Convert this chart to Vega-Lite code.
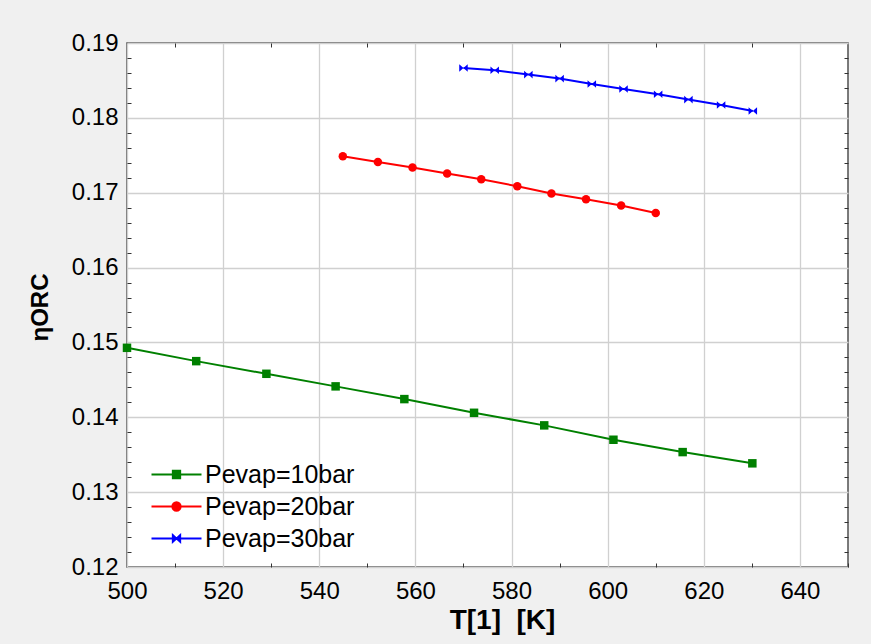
{
  "$schema": "https://vega.github.io/schema/vega-lite/v6.json",
  "autosize": "none",
  "width": 721,
  "height": 524,
  "padding": {"left": 127, "top": 43, "right": 23, "bottom": 77},
  "background": "#f0f0f0",
  "config": {
    "view": {"fill": "white", "stroke": "#505050", "strokeWidth": 1.5},
    "font": "Liberation Sans",
    "axis": {"labelFont": "Liberation Sans", "titleFont": "Liberation Sans", "labelColor": "#000", "titleColor": "#000"},
    "legend": {"labelFont": "Liberation Sans", "labelColor": "#000", "labelFontSize": 25, "padding": 0}
  },
  "data": {"values": [
    {"series": "Pevap=10bar", "T": 500.0, "eta": 0.14928},
    {"series": "Pevap=10bar", "T": 514.4, "eta": 0.14750},
    {"series": "Pevap=10bar", "T": 529.0, "eta": 0.14581},
    {"series": "Pevap=10bar", "T": 543.4, "eta": 0.14413},
    {"series": "Pevap=10bar", "T": 557.7, "eta": 0.14243},
    {"series": "Pevap=10bar", "T": 572.2, "eta": 0.14060},
    {"series": "Pevap=10bar", "T": 586.8, "eta": 0.13892},
    {"series": "Pevap=10bar", "T": 601.2, "eta": 0.13700},
    {"series": "Pevap=10bar", "T": 615.6, "eta": 0.13535},
    {"series": "Pevap=10bar", "T": 630.1, "eta": 0.13385},
    {"series": "Pevap=20bar", "T": 544.9, "eta": 0.17487},
    {"series": "Pevap=20bar", "T": 552.2, "eta": 0.17411},
    {"series": "Pevap=20bar", "T": 559.4, "eta": 0.17336},
    {"series": "Pevap=20bar", "T": 566.6, "eta": 0.17256},
    {"series": "Pevap=20bar", "T": 573.7, "eta": 0.17180},
    {"series": "Pevap=20bar", "T": 581.2, "eta": 0.17087},
    {"series": "Pevap=20bar", "T": 588.3, "eta": 0.16989},
    {"series": "Pevap=20bar", "T": 595.5, "eta": 0.16913},
    {"series": "Pevap=20bar", "T": 602.8, "eta": 0.16829},
    {"series": "Pevap=20bar", "T": 610.0, "eta": 0.16730},
    {"series": "Pevap=30bar", "T": 570.0, "eta": 0.18666},
    {"series": "Pevap=30bar", "T": 576.5, "eta": 0.18636},
    {"series": "Pevap=30bar", "T": 583.5, "eta": 0.18578},
    {"series": "Pevap=30bar", "T": 590.0, "eta": 0.18525},
    {"series": "Pevap=30bar", "T": 596.7, "eta": 0.18453},
    {"series": "Pevap=30bar", "T": 603.3, "eta": 0.18386},
    {"series": "Pevap=30bar", "T": 610.5, "eta": 0.18315},
    {"series": "Pevap=30bar", "T": 616.8, "eta": 0.18244},
    {"series": "Pevap=30bar", "T": 623.6, "eta": 0.18172},
    {"series": "Pevap=30bar", "T": 630.2, "eta": 0.18092}
  ]},
  "layer": [
    {
      "mark": {"type": "line", "strokeWidth": 2},
      "encoding": {
        "x": {"field": "T", "type": "quantitative", "scale": {"domain": [500, 650], "nice": false, "zero": false},
          "axis": {"orient": "bottom", "values": [500,510,520,530,540,550,560,570,580,590,600,610,620,630,640,650],
            "labelExpr": "datum.value % 20 == 0 && datum.value < 650 ? datum.label : ''",
            "labelFontSize": 24, "labelPadding": 16, "labelFlush": false,
            "domain": false, "tickSize": -4, "tickColor": "#333", "tickWidth": 1,
            "tickOpacity": {"condition": {"test": "datum.value % 20 == 0", "value": 0}, "value": 1},
            "grid": true, "gridColor": "#d0d0d0", "gridWidth": 1.3,
            "gridOpacity": {"condition": {"test": "datum.value % 20 == 0", "value": 1}, "value": 0},
            "title": "T[1]\u00a0\u00a0[K]", "titleFontSize": 28, "titleFontWeight": "bold",
            "titleX": 375, "titleY": 61, "titleBaseline": "alphabetic", "titleAlign": "center"}},
        "y": {"field": "eta", "type": "quantitative", "scale": {"domain": [0.12, 0.19], "nice": false, "zero": false},
          "axis": {"orient": "left", "values": [0.12,0.122,0.124,0.126,0.128,0.13,0.132,0.134,0.136,0.138,0.14,0.142,0.144,0.146,0.148,0.15,0.152,0.154,0.156,0.158,0.16,0.162,0.164,0.166,0.168,0.17,0.172,0.174,0.176,0.178,0.18,0.182,0.184,0.186,0.188,0.19],
            "format": ".2f",
            "labelExpr": "abs(datum.value*100 - round(datum.value*100)) < 0.001 ? datum.label : ''",
            "labelFontSize": 24, "labelPadding": 13,
            "domain": false, "tickSize": -4, "tickColor": "#333", "tickWidth": 1,
            "tickOpacity": {"condition": {"test": "abs(datum.value*100 - round(datum.value*100)) < 0.001", "value": 0}, "value": 1},
            "grid": true, "gridColor": "#d0d0d0", "gridWidth": 1.3,
            "gridOpacity": {"condition": {"test": "abs(datum.value*100 - round(datum.value*100)) < 0.001", "value": 1}, "value": 0},
            "title": "ηORC", "titleFontSize": 24, "titleFontWeight": "bold", "titleAngle": 270,
            "titleX": -87, "titleY": 264, "titleBaseline": "middle", "titleAlign": "center"}},
        "color": {"field": "series", "type": "nominal",
          "scale": {"domain": ["Pevap=10bar", "Pevap=20bar", "Pevap=30bar"], "range": ["#008000", "#ff0000", "#0000ff"]},
          "legend": null}
      }
    },
    {
      "mark": {"type": "point", "filled": true, "size": 72, "opacity": 1},
      "encoding": {
        "x": {"field": "T", "type": "quantitative",
          "axis": {"orient": "top", "values": [510,530,550,570,590,610,630], "labels": false, "domain": false, "grid": false,
            "tickSize": -4, "tickColor": "#333", "tickWidth": 1, "title": null}},
        "y": {"field": "eta", "type": "quantitative",
          "axis": {"orient": "right", "values": [0.122,0.124,0.126,0.128,0.132,0.134,0.136,0.138,0.142,0.144,0.146,0.148,0.152,0.154,0.156,0.158,0.162,0.164,0.166,0.168,0.172,0.174,0.176,0.178,0.182,0.184,0.186,0.188],
            "labels": false, "domain": false, "grid": false, "tickSize": -4, "tickColor": "#333", "tickWidth": 1, "title": null}},
        "color": {"field": "series", "type": "nominal", "legend": null},
        "shape": {"field": "series", "type": "nominal", "legend": null,
          "scale": {"domain": ["Pevap=10bar", "Pevap=20bar", "Pevap=30bar"],
            "range": ["square", "circle", "M-1,-0.9L0,0L-1,0.9ZM1,-0.9L0,0L1,0.9Z"]}}
      }
    },
    {
      "transform": [{"filter": "false"}],
      "mark": {"type": "point", "filled": true, "opacity": 1, "strokeWidth": 1.8},
      "encoding": {
        "x": {"field": "T", "type": "quantitative", "axis": null},
        "y": {"field": "eta", "type": "quantitative", "axis": null},
        "fill": {"field": "series", "type": "nominal",
          "scale": {"domain": ["Pevap=10bar", "Pevap=20bar", "Pevap=30bar"], "range": ["#008000", "#ff0000", "#0000ff"]},
          "legend": {"orient": "none", "legendX": 17, "legendY": 419, "title": null, "symbolSize": 100, "symbolOffset": 20, "labelOffset": 16, "rowPadding": 6, "symbolStrokeWidth": 1.8, "symbolOpacity": 1, "labelLimit": 300}},
        "stroke": {"field": "series", "type": "nominal",
          "scale": {"domain": ["Pevap=10bar", "Pevap=20bar", "Pevap=30bar"], "range": ["#008000", "#ff0000", "#0000ff"]},
          "legend": {"orient": "none", "legendX": 17, "legendY": 419, "title": null, "symbolSize": 100, "symbolOffset": 20, "labelOffset": 16, "rowPadding": 6, "symbolStrokeWidth": 1.8, "symbolOpacity": 1, "labelLimit": 300}},
        "shape": {"field": "series", "type": "nominal",
          "scale": {"domain": ["Pevap=10bar", "Pevap=20bar", "Pevap=30bar"],
            "range": ["M-5,0H5M-0.75,-0.75H0.75V0.75H-0.75Z", "M-5,0H5M0.85,0A0.85,0.85 0 1 1 -0.85,0A0.85,0.85 0 1 1 0.85,0Z", "M-5,0H5M-0.75,-0.7L0,0L-0.75,0.7ZM0.75,-0.7L0,0L0.75,0.7Z"]},
          "legend": {"orient": "none", "legendX": 17, "legendY": 419, "title": null, "symbolSize": 100, "symbolOffset": 20, "labelOffset": 16, "rowPadding": 6, "symbolStrokeWidth": 1.8, "symbolOpacity": 1, "labelLimit": 300}}
      }
    }
  ],
  "resolve": {
    "axis": {"x": "independent", "y": "independent"},
    "scale": {"shape": "independent", "fill": "independent", "stroke": "independent"}
  }
}
